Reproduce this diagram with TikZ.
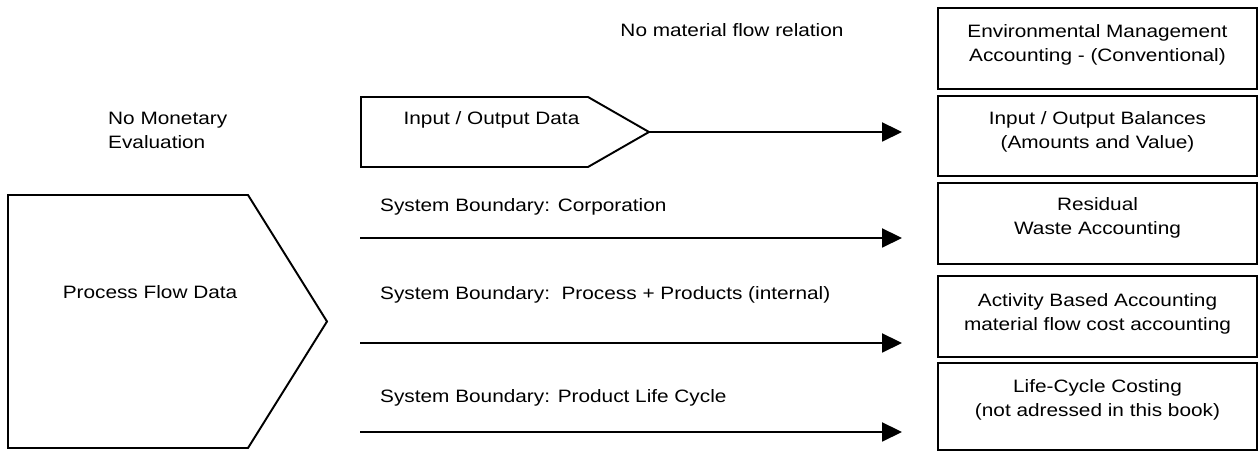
\documentclass[tikz,border=0pt]{standalone}
\usepackage{fontspec}
\setmainfont{Liberation Sans}[FakeStretch=1.16]
\usepackage{tikz}
\usetikzlibrary{arrows.meta}

\begin{document}
\begin{tikzpicture}[
  every node/.style={font=\fontsize{10.2}{13.6}\selectfont},
  accbox/.style={draw,line width=1.1pt,minimum width=6.38cm,align=center},
  flow/.style={line width=1.1pt,-{Triangle[length=0.4cm,width=0.38cm]},shorten >=0.7cm},
  datashape/.style={line width=1.1pt,line join=miter}
]
\useasboundingbox (0,0) rectangle (25.16,9.1);

% Accounting boxes
\node[accbox,minimum height=1.62cm] (ema) at (21.95,8.13) {Environmental Management\\Accounting - (Conventional)\\[-0.26cm]};
\node[accbox,minimum height=1.6cm] (iob) at (21.95,6.38) {Input / Output Balances\\(Amounts and Value)\\[-0.24cm]};
\node[accbox,minimum height=1.62cm] (rwa) at (21.95,4.63) {Residual\\Waste Accounting\\[-0.18cm]};
\node[accbox,minimum height=1.62cm] (aba) at (21.95,2.77) {Activity Based Accounting\\material flow cost accounting\\[-0.3cm]};
\node[accbox,minimum height=1.74cm] (lcc) at (21.95,0.97) {Life-Cycle Costing\\(not adressed in this book)\\[-0.14cm]};

% Data shapes
\draw[datashape] (7.22,7.16) -- (11.76,7.16) -- (12.98,6.46) -- (11.76,5.76) -- (7.22,5.76) -- cycle;
\coordinate (iotip) at (12.98,6.46);
\node (iodata) at (9.83,6.7) {Input / Output Data};

\draw[datashape] (0.16,5.2) -- (4.96,5.2) -- (6.54,2.67) -- (4.96,0.14) -- (0.16,0.14) -- cycle;
\node (procdata) at (3.0,3.26) {Process Flow Data};

% Labels
\node (nomat) at (14.64,8.5) {No material flow relation};
\node[anchor=west,align=left] (nomon) at (2.04,6.49) {No Monetary\\Evaluation};

% System boundaries
\node[anchor=west] (sbcorp) at (7.48,4.96) {System Boundary: Corporation};
\node[anchor=west] (sbproc) at (7.48,3.2) {System Boundary:\ \ Process + Products (internal)};
\node[anchor=west] (sblife) at (7.48,1.14) {System Boundary: Product Life Cycle};
\coordinate (corp) at (7.2,4.34);
\coordinate (proc) at (7.2,2.24);
\coordinate (life) at (7.2,0.46);

% Arrows
\draw[flow] (iotip) -- (iotip -| iob.west);
\draw[flow] (corp) -- (corp -| rwa.west);
\draw[flow] (proc) -- (proc -| aba.west);
\draw[flow] (life) -- (life -| lcc.west);
\end{tikzpicture}
\end{document}
